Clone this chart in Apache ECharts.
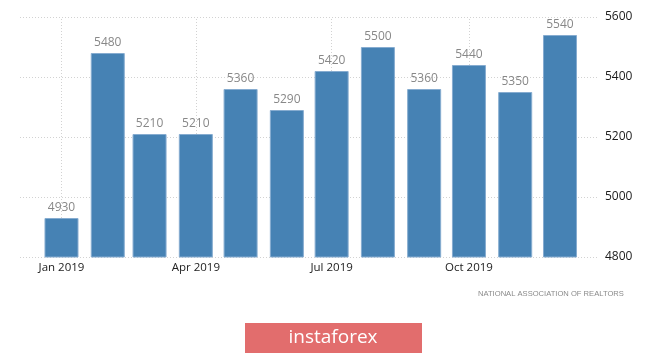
<!DOCTYPE html>
<html>
<head>
<meta charset="utf-8">
<script src="https://cdn.jsdelivr.net/npm/echarts@6/dist/echarts.min.js"></script>
<style>
html,body{margin:0;padding:0;background:#fff;}
#chart{width:665px;height:354px;}
</style>
</head>
<body>
<div id="chart"></div>
<script>
// Data
const months = ['2019-01-01','2019-02-01','2019-03-01','2019-04-01','2019-05-01','2019-06-01',
                '2019-07-01','2019-08-01','2019-09-01','2019-10-01','2019-11-01','2019-12-01'];
const sales = [4930, 5480, 5210, 5210, 5360, 5290, 5420, 5500, 5360, 5440, 5350, 5540];
const tickMonths = ['2019-01-01','2019-04-01','2019-07-01','2019-10-01'];
const tickLabels = ['Jan 2019','Apr 2019','Jul 2019','Oct 2019'];
const yTicks = [4800, 5000, 5200, 5400, 5600];
const sourceText = 'NATIONAL ASSOCIATION OF REALTORS';
const brandText = 'instaforex';

function ts(s){ const p = s.split('-').map(Number); return Date.UTC(p[0], p[1]-1, p[2]); }
const DAY = 86400000;
const yMin = yTicks[0], yMax = yTicks[yTicks.length - 1];

const chart = echarts.init(document.getElementById('chart'));
chart.setOption({
  animation: false,
  backgroundColor: '#fff',
  grid: { left: 20, right: 68, top: 17, bottom: 97, containLabel: false },
  xAxis: {
    type: 'value',
    min: ts(months[0]) - 27.8 * DAY,
    max: ts(months[0]) + 358.8 * DAY,
    axisLine: { show: false },
    axisTick: { show: false },
    splitLine: { show: false },
    axisLabel: { show: false }
  },
  yAxis: {
    type: 'value',
    position: 'right',
    min: yMin,
    max: yMax,
    interval: 200,
    axisLine: { show: false },
    axisTick: { show: false },
    splitLine: { show: true, lineStyle: { color: '#d2d2d2', type: [1, 2], width: 1 } },
    axisLabel: { margin: 8, color: '#1a1a1a', fontSize: 12, fontFamily: 'Open Sans, sans-serif',
                 formatter: function (v) { return String(v); } }
  },
  series: [{
    type: 'line',
    data: [],
    z: 0,
    silent: true,
    markLine: {
      silent: true,
      z: 0,
      symbol: ['none', 'none'],
      lineStyle: { color: '#d2d2d2', type: [1, 2], width: 1 },
      label: {
        show: true, position: 'start', distance: 5,
        color: '#222', fontSize: 11.5, fontFamily: 'Open Sans, sans-serif'
      },
      data: tickMonths.map((m, i) => [
        { coord: [ts(m), yMin], label: { formatter: tickLabels[i] } },
        { coord: [ts(m), yMax] }
      ])
    }
  }, {
    type: 'bar',
    z: 3,
    barWidth: 34,
    data: months.map((m, i) => [ts(m), sales[i]]),
    itemStyle: { color: '#4682b4', borderColor: '#86acd0', borderWidth: 1 },
    label: {
      show: true, position: 'top', distance: 4,
      color: '#888', fontSize: 12, fontFamily: 'Open Sans, sans-serif'
    }
  }],
  graphic: [
    { type: 'text', left: 478, top: 290,
      style: { text: sourceText, fill: '#8a8a8a', fontSize: 7.6, fontFamily: 'Liberation Sans, sans-serif' } },
    { type: 'rect', shape: { x: 245, y: 323, width: 177, height: 30 },
      style: { fill: '#e26d6d' } },
    { type: 'text', x: 333, y: 338,
      style: { text: brandText, fill: '#fff', fontSize: 19, fontFamily: 'Open Sans, sans-serif',
               align: 'center', verticalAlign: 'middle' } }
  ]
});
</script>
</body>
</html>
